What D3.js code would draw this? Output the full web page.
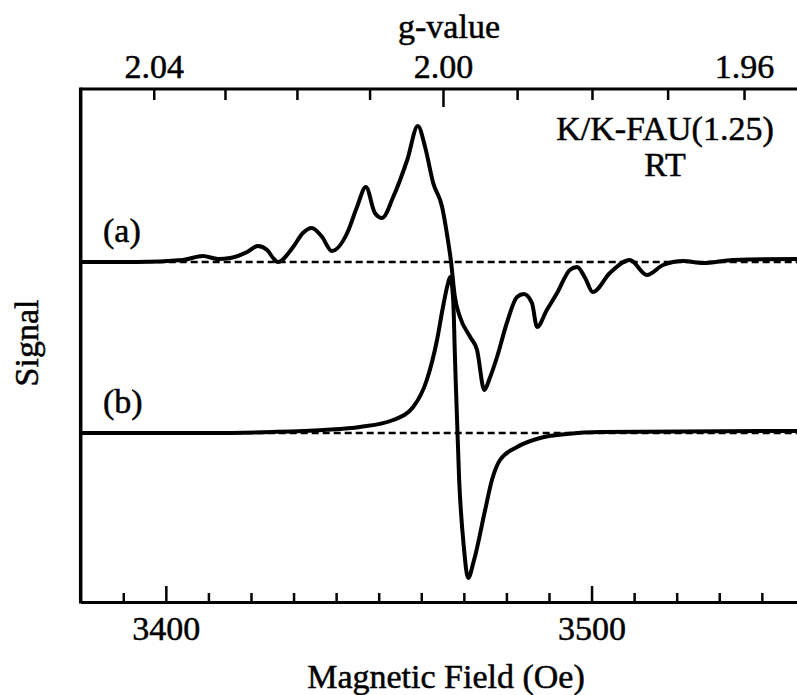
<!DOCTYPE html>
<html>
<head>
<meta charset="utf-8">
<script src="https://d3js.org/d3.v7.min.js"></script>
<style>
  body { margin: 0; background: #fff; }
  svg text { font-family: "Liberation Serif", "Times New Roman", serif; fill: #000; stroke: #000; stroke-width: 0.5px; }
</style>
</head>
<body>
<svg id="esrSvg" width="797" height="695"></svg>
<script>
// magnetic field axis (Oe)
let fieldTicks = [3390, 3400, 3410, 3420, 3430, 3440, 3450, 3460, 3470, 3480, 3490, 3500, 3510, 3520, 3530, 3540, 3550];
let fieldLabels = [3400, 3500];

// g-value axis, B = gConst / g
let gTicks = [2.04, 2.03, 2.02, 2.01, 2.00, 1.99, 1.98, 1.97, 1.96];
let gLabels = [2.04, 2.00, 1.96];
let gConst = 6930.2;

// trace (a)
let fieldA = [3380, 3393.2, 3404.0, 3408.7, 3412.3, 3415.1, 3419.1, 3421.6, 3423.8, 3425.2, 3426.3,
  3429.9, 3432.2, 3434.3, 3436.7, 3439.0, 3442.6, 3444.9, 3447.0, 3449.1, 3450.8, 3453.4, 3456.7,
  3459.2, 3460.9, 3462.8, 3464.9, 3466.0, 3467.0, 3467.9, 3469.1, 3471.5, 3473.1, 3474.8, 3476.1,
  3477.8, 3480.1, 3482.5, 3484.1, 3486.0, 3487.2, 3489.5, 3491.9, 3494.9, 3496.6, 3498.5, 3500.3,
  3504.3, 3509.0, 3513.0, 3516.8, 3521.5, 3526.2, 3533.2, 3548.3, 3552];
let signalA = [0, 0, 0.2, 0.6, 0.3, 0.4, 1.0, 1.6, 1.2, 0.4, 0.0,
  1.5, 2.9, 3.4, 2.5, 1.1, 2.9, 5.5, 7.5, 4.9, 4.4, 6.5, 10.2,
  13.6, 11.5, 7.9, 5.5, 2.9, 0, -3.5, -5.5, -7.5, -8.8, -12.8, -11.6,
  -9.5, -6.1, -3.5, -3.2, -4.1, -6.5, -4.8, -3.1, -0.8, -0.5, -1.6, -3.0,
  -1.1, 0.2, -1.3, -0.3, 0.1, -0.1, 0.2, 0.3, 0.3];

// trace (b)
let fieldB = [3380, 3410, 3425, 3437, 3445.6, 3453.4, 3458.1, 3461.3, 3463.7, 3465.1, 3466.3, 3466.8, 3467.5,
  3467.9, 3468.9, 3470.0, 3471.0, 3472.4, 3475.0, 3476.6, 3478.5, 3482.5, 3487.9, 3494.2, 3502.0,
  3548.3, 3552];
let signalB = [0, 0, 0.1, 0.3, 0.6, 1.3, 2.6, 5.3, 9.3, 12.6, 15.0, 15.6, 13.3,
  7.8, -4.7, -11.4, -14.5, -12.7, -7.7, -4.7, -2.7, -1.4, -0.5, -0.1, 0.1,
  0.2, 0.2];

let traceNames = ["(a)", "(b)"];
let traceOffsets = [0, -17.1];

let svg = d3.select("#esrSvg");

let xScale = d3.scaleLinear()
  .domain([3380, 3550])
  .range([80.7, 804.4]);

let yScale = d3.scaleLinear()
  .domain([-34, 17.3])
  .range([602, 89]);

// g scale built from the field scale
let gScale = d3.scaleLinear()
  .domain(gTicks)
  .range(gTicks.map(g => xScale(gConst / g)));

let traces = [
  fieldA.map((f, i) => ({ f: f, s: signalA[i] + traceOffsets[0] })),
  fieldB.map((f, i) => ({ f: f, s: signalB[i] + traceOffsets[1] }))
];

// dashed zero lines
svg.selectAll(".zero")
  .data(traceOffsets)
  .enter()
  .append("line")
  .attr("class", "zero")
  .attr("x1", xScale(3380))
  .attr("x2", xScale(3550))
  .attr("y1", d => yScale(d))
  .attr("y2", d => yScale(d))
  .attr("stroke", "#000")
  .attr("stroke-width", 2.5)
  .attr("stroke-dasharray", "7,4");

let line = d3.line()
  .x(d => xScale(d.f))
  .y(d => yScale(d.s))
  .curve(d3.curveMonotoneX);

svg.selectAll(".trace")
  .data(traces)
  .enter()
  .append("path")
  .attr("class", "trace")
  .attr("d", line)
  .attr("fill", "none")
  .attr("stroke", "#000")
  .attr("stroke-width", 4)
  .attr("stroke-linejoin", "round");

// bottom axis, ticks point inward
let xAxis = d3.axisBottom(xScale)
  .tickValues(fieldTicks)
  .tickSizeInner(-9)
  .tickSizeOuter(0)
  .tickPadding(14)
  .tickFormat(d => fieldLabels.includes(d) ? d : "");

let bottomAxis = svg.append("g")
  .attr("transform", "translate(0," + yScale(-34) + ")")
  .call(xAxis);
bottomAxis.selectAll(".tick line")
  .attr("y2", d => fieldLabels.includes(d) ? -16 : -9)
  .attr("stroke-width", 2.5);
bottomAxis.select(".domain").attr("stroke-width", 3);

// top axis in g-value
let gAxis = d3.axisTop(gScale)
  .tickValues(gTicks)
  .tickSizeInner(-11)
  .tickSizeOuter(0)
  .tickPadding(11)
  .tickFormat(d => gLabels.includes(d) ? d3.format(".2f")(d) : "");

let topAxis = svg.append("g")
  .attr("transform", "translate(0," + yScale(17.3) + ")")
  .call(gAxis);
topAxis.selectAll(".tick line")
  .attr("y2", d => d === 2.00 ? 18 : 11)
  .attr("stroke-width", 2.5);
topAxis.select(".domain").remove();

[bottomAxis, topAxis].forEach(function (ax) {
  ax.selectAll("text")
    .attr("font-size", 34)
    .attr("font-family", "Liberation Serif, serif");
});

// frame: top and left lines
svg.append("line")
  .attr("x1", xScale(3380))
  .attr("x2", xScale(3550))
  .attr("y1", yScale(17.3))
  .attr("y2", yScale(17.3))
  .attr("stroke", "#000")
  .attr("stroke-width", 3);

svg.append("line")
  .attr("x1", xScale(3380))
  .attr("x2", xScale(3380))
  .attr("y1", yScale(17.3) - 1.5)
  .attr("y2", yScale(-34) + 1.5)
  .attr("stroke", "#000")
  .attr("stroke-width", 3.5);

// labels
svg.append("text")
  .attr("x", 449)
  .attr("y", 38)
  .attr("font-size", 34)
  .style("text-anchor", "middle")
  .text("g-value");

svg.append("text")
  .attr("x", 446)
  .attr("y", 688)
  .attr("font-size", 34)
  .style("text-anchor", "middle")
  .text("Magnetic Field (Oe)");

svg.append("text")
  .attr("transform", "translate(38,343) rotate(-90)")
  .attr("font-size", 34)
  .style("text-anchor", "middle")
  .text("Signal");

svg.append("text")
  .attr("x", 665)
  .attr("y", 140)
  .attr("font-size", 34)
  .style("text-anchor", "middle")
  .text("K/K-FAU(1.25)");

svg.append("text")
  .attr("x", 665)
  .attr("y", 176)
  .attr("font-size", 34)
  .style("text-anchor", "middle")
  .text("RT");

svg.selectAll(".traceName")
  .data(traceNames)
  .enter()
  .append("text")
  .attr("class", "traceName")
  .attr("x", 103)
  .attr("y", (d, i) => yScale(traceOffsets[i]) - 20)
  .attr("font-size", 34)
  .text(d => d);
</script>
</body>
</html>
